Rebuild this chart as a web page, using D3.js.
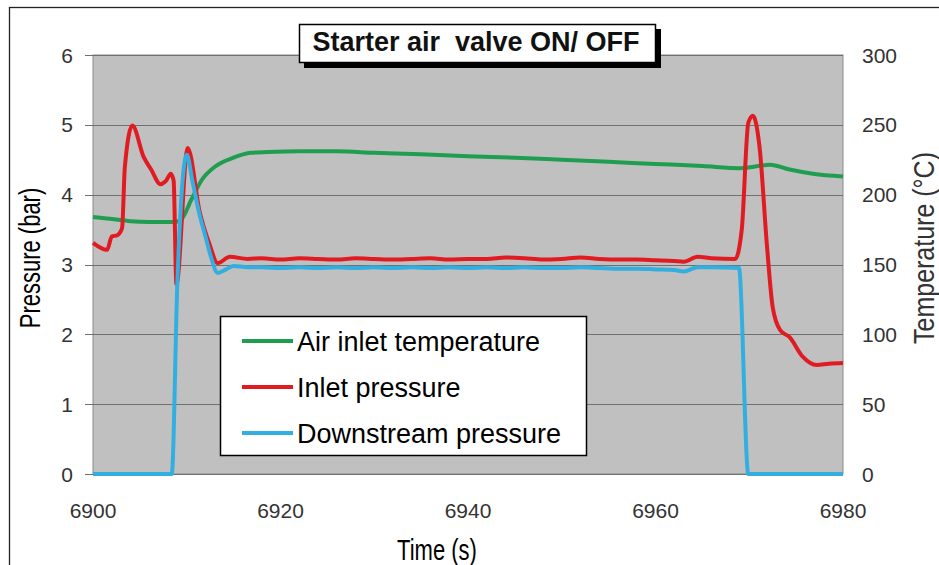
<!DOCTYPE html>
<html><head><meta charset="utf-8">
<script src="https://cdn.jsdelivr.net/npm/d3@7"></script>
<style>body{margin:0;background:#fff}svg{display:block}text{font-family:"Liberation Sans",Arial,sans-serif}</style>
</head><body><svg id="c" width="939" height="565"></svg>
<script>
const xTicks = [6900, 6920, 6940, 6960, 6980];
const pTicks = [0, 1, 2, 3, 4, 5, 6];
const tTicks = [0, 50, 100, 150, 200, 250, 300];

const tempTime = [6900,6902,6904,6906,6908.5,6909.3,6910.5,6911.6,6913,6915,6916.8,6918.6,6922,6926,6930,6935,6940,6945,6950,6955,6960,6965,6969,6970.5,6972.2,6974.3,6976.8,6980];
const tempValues = [184,182.5,181,180.5,180.5,181.5,196.5,210.5,220,226.5,230,230.5,231,231,230,229,227.5,226.5,225,223.5,222,220.5,219,220,221.5,218,215,213];

const inletTime = [6900,6901.5,6902,6902.6,6903.1,6903.4,6904.2,6905.4,6906.2,6907.2,6907.8,6908.3,6908.6,6908.9,6910.1,6911.4,6912.4,6913.3,6914.6,6916.5,6918,6920,6922,6924,6926,6928,6930,6932,6934,6936,6938,6940,6942,6944,6946,6948,6950,6952,6954,6956,6958,6960,6962,6963,6964.5,6966,6968.5,6969.2,6969.9,6970.4,6971.1,6971.9,6972.5,6973.3,6974.3,6975.7,6977.2,6978.5,6980];
const inletValues = [3.31,3.21,3.40,3.42,3.52,4.40,4.99,4.54,4.36,4.15,4.20,4.30,4.20,2.72,4.67,3.74,3.30,3.02,3.11,3.08,3.09,3.07,3.09,3.08,3.07,3.09,3.08,3.07,3.08,3.09,3.07,3.08,3.08,3.10,3.09,3.07,3.08,3.10,3.08,3.07,3.07,3.06,3.05,3.04,3.11,3.09,3.08,3.50,5.03,5.13,4.68,3.25,2.39,2.06,1.96,1.68,1.56,1.58,1.59];

const downTime = [6900,6908.4,6909.0,6910.0,6910.6,6911.3,6912.0,6912.6,6913.3,6914.2,6915,6916.5,6918,6920,6922,6924,6926,6928,6930,6932,6934,6936,6938,6940,6942,6944,6946,6948,6950,6952,6954,6956,6958,6960,6962,6963,6964.5,6966,6968.9,6969.9,6980];
const downValues = [0,0,2.75,4.57,4.20,3.75,3.40,3.10,2.88,2.93,2.98,2.96,2.96,2.95,2.96,2.95,2.96,2.95,2.96,2.95,2.96,2.95,2.96,2.95,2.96,2.95,2.96,2.95,2.95,2.96,2.95,2.94,2.94,2.93,2.92,2.90,2.96,2.96,2.95,0,0];

const svg = d3.select("#c");
const L = 93, R = 843, T = 55, B = 474;
const x = d3.scaleLinear().domain([6900, 6980]).range([L, R]);
const yP = d3.scaleLinear().domain([0, 6]).range([B, T]);
const yT = d3.scaleLinear().domain([0, 300]).range([B, T]);

// outer frame
svg.append("rect").attr("x", 9.5).attr("y", 7.5).attr("width", 960).attr("height", 600)
  .attr("fill", "#fff").attr("stroke", "#222").attr("stroke-width", 1.3);

// plot area
svg.append("rect").attr("x", L).attr("y", T).attr("width", R - L).attr("height", B - T)
  .attr("fill", "#c0c0c0").attr("stroke", "#8a8a8a").attr("stroke-width", 1);

// gridlines + left ticks
svg.append("g").selectAll("line").data(pTicks).join("line")
  .attr("x1", L - 8).attr("x2", R).attr("y1", d => Math.round(yP(d)) + 0.5).attr("y2", d => Math.round(yP(d)) + 0.5)
  .attr("stroke", "#707070").attr("stroke-width", 1);

// left labels
svg.append("g").selectAll("text").data(pTicks).join("text")
  .attr("x", 73).attr("y", d => yP(d)).attr("dy", "0.36em").attr("text-anchor", "end")
  .attr("font-size", 21).attr("fill", "#333").text(d => d);
// right labels
svg.append("g").selectAll("text").data(tTicks).join("text")
  .attr("x", 862).attr("y", d => yT(d)).attr("dy", "0.36em").attr("text-anchor", "start")
  .attr("font-size", 21).attr("fill", "#333").text(d => d);
// x labels
svg.append("g").selectAll("text").data(xTicks).join("text")
  .attr("x", d => x(d)).attr("y", 518).attr("text-anchor", "middle")
  .attr("font-size", 21).attr("fill", "#333").text(d => d);

// axis titles (glyphs slightly stretched in height, as in the reference)
svg.append("text").attr("transform", "translate(30,258) rotate(-90) scale(1,1.3)").attr("text-anchor", "middle")
  .attr("dy", "0.36em").attr("font-size", 22).attr("fill", "#000").text("Pressure (bar)");
svg.append("text").attr("transform", "translate(923,248) rotate(-90) scale(1,1.2)").attr("text-anchor", "middle")
  .attr("dy", "0.36em").attr("font-size", 25).attr("fill", "#333").text("Temperature (°C)");
svg.append("text").attr("transform", "translate(437,560) scale(1,1.3)").attr("text-anchor", "middle")
  .attr("font-size", 22).attr("fill", "#000").text("Time (s)");

// lines
const mk = (ts, vs) => ts.map((t, i) => [t, vs[i]]);
const lineP = d3.line().x(d => x(d[0])).y(d => yP(d[1])).curve(d3.curveMonotoneX);
const lineT = d3.line().x(d => x(d[0])).y(d => yT(d[1])).curve(d3.curveMonotoneX);
const cGreen = "#1f9e52", cRed = "#e01b22", cBlue = "#33aee0";
svg.append("path").attr("d", lineT(mk(tempTime, tempValues))).attr("fill", "none")
  .attr("stroke", cGreen).attr("stroke-width", 4).attr("stroke-linejoin", "round");
svg.append("path").attr("d", lineP(mk(inletTime, inletValues))).attr("fill", "none")
  .attr("stroke", cRed).attr("stroke-width", 4).attr("stroke-linejoin", "round");
svg.append("path").attr("d", lineP(mk(downTime, downValues))).attr("fill", "none")
  .attr("stroke", cBlue).attr("stroke-width", 4).attr("stroke-linejoin", "round");

// title box
svg.append("rect").attr("x", 304).attr("y", 29).attr("width", 357).attr("height", 39).attr("fill", "#000");
svg.append("rect").attr("x", 299.5).attr("y", 24.5).attr("width", 356).attr("height", 38)
  .attr("fill", "#fff").attr("stroke", "#000").attr("stroke-width", 1.5);
svg.append("text").attr("x", 476).attr("y", 51).attr("text-anchor", "middle")
  .attr("font-size", 27).attr("font-weight", "bold").attr("fill", "#111")
  .attr("xml:space", "preserve").text("Starter air  valve ON/ OFF");

// legend
const legend = [["Air inlet temperature", cGreen], ["Inlet pressure", cRed], ["Downstream pressure", cBlue]];
svg.append("rect").attr("x", 220.5).attr("y", 316.5).attr("width", 366).attr("height", 139)
  .attr("fill", "#fff").attr("stroke", "#000").attr("stroke-width", 1.5);
const lg = svg.append("g").selectAll("g").data(legend).join("g")
  .attr("transform", (d, i) => `translate(0,${341 + i * 46})`);
lg.append("line").attr("x1", 242).attr("x2", 293).attr("stroke", d => d[1]).attr("stroke-width", 4);
lg.append("text").attr("x", 297).attr("dy", "0.36em").attr("font-size", 27).attr("fill", "#000").text(d => d[0]);
</script></body></html>
